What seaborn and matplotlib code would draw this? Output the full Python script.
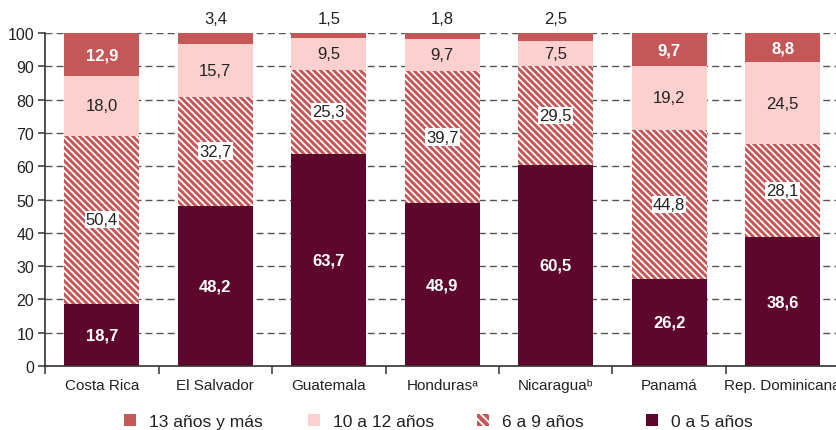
import numpy as np
import pandas as pd
import seaborn as sns
import matplotlib.pyplot as plt
from matplotlib.patches import Patch
from matplotlib.ticker import FixedLocator

countries = ["Costa Rica", "El Salvador", "Guatemala", "Honduras\u1d43",
             "Nicaragua\u1d47", "Panamá", "Rep. Dominicana"]
age_0_5 = [18.7, 48.2, 63.7, 48.9, 60.5, 26.2, 38.6]
age_6_9 = [50.4, 32.7, 25.3, 39.7, 29.5, 44.8, 28.1]
age_10_12 = [18.0, 15.7, 9.5, 9.7, 7.5, 19.2, 24.5]
age_13_plus = [12.9, 3.4, 1.5, 1.8, 2.5, 9.7, 8.8]

series_names = ["0 a 5 años", "6 a 9 años", "10 a 12 años", "13 años y más"]
colors = ["#5e072c", "#c65657", "#fbd0ce", "#c45859"]

sns.set_style("white")
plt.rcParams['font.family'] = ['Liberation Sans', 'DejaVu Sans']
plt.rcParams['hatch.linewidth'] = 1.3

df = pd.DataFrame({"pais": countries, "s0": age_0_5, "s1": age_6_9,
                   "s2": age_10_12, "s3": age_13_plus})
cols = ["s0", "s1", "s2", "s3"]
cum = df[cols].cumsum(axis=1)

fig = plt.figure(figsize=(8.36, 4.31), dpi=100)
ax = fig.add_axes([0.054, 0.1485, 0.946, 0.7725])

# draw from the top of the stack down so each layer covers the one before
for i in range(3, -1, -1):
    sns.barplot(x=df["pais"], y=cum[cols[i]], ax=ax, color=colors[i],
                saturation=1, width=0.66, linewidth=0)
    if i == 1:
        for p in ax.patches[-len(countries):]:
            p.set_facecolor(colors[1])
            p.set_edgecolor("white")
            p.set_hatch("\\\\\\\\\\")
            p.set_linewidth(0)

ax.set_xlim(-0.5, 6.47)
ax.set_ylim(0, 100)
ax.set_yticks(np.arange(0, 101, 10))
ax.set_xlabel("")
ax.set_ylabel("")

ax.set_axisbelow(True)
ax.yaxis.grid(True, linestyle=(0, (5, 3)), color="#555555", linewidth=1.0)
ax.xaxis.grid(False)

for s in ["top", "right"]:
    ax.spines[s].set_visible(False)
for s in ["left", "bottom"]:
    ax.spines[s].set_color("#333333")
    ax.spines[s].set_linewidth(1.2)

ax.tick_params(axis="y", which="major", left=True, length=5, width=1.1,
               color="#333333", labelsize=11.5, pad=3, labelcolor="#222222")
ax.tick_params(axis="x", which="major", bottom=False, labelsize=11,
               pad=5, labelcolor="#222222")
ax.xaxis.set_minor_locator(FixedLocator(np.arange(-0.5, 7, 1)))
ax.tick_params(axis="x", which="minor", bottom=True, length=6, width=1.1,
               color="#333333")

# value labels
fs = 12
for j in range(len(countries)):
    base = 0
    for i, c in enumerate(cols):
        v = df.loc[j, c]
        mid = base + v / 2
        txt = f"{v:.1f}".replace(".", ",")
        if i == 0:
            ax.text(j, mid, txt, ha="center", va="center", color="white",
                    fontsize=fs, fontweight="bold")
        elif i == 1:
            ax.text(j, mid, txt, ha="center", va="center", color="#222222",
                    fontsize=fs,
                    bbox=dict(facecolor="white", edgecolor="none", pad=0.8))
        elif i == 2:
            ax.text(j, mid, txt, ha="center", va="center", color="#222222",
                    fontsize=fs)
        else:
            if v > 5:
                ax.text(j, mid, txt, ha="center", va="center", color="white",
                        fontsize=fs, fontweight="bold")
            else:
                ax.text(j, 104.3, txt, ha="center", va="center",
                        color="#222222", fontsize=fs, clip_on=False)
        base += v

handles = [
    Patch(facecolor=colors[3], edgecolor="none", label=series_names[3]),
    Patch(facecolor=colors[2], edgecolor="none", label=series_names[2]),
    Patch(facecolor=colors[1], edgecolor="white", hatch="\\\\\\\\", linewidth=0,
          label=series_names[1]),
    Patch(facecolor=colors[0], edgecolor="none", label=series_names[0]),
]
# one small legend per entry, so each sits where the reference puts it
legend_x = [124, 308, 477, 646]
for h, lx in zip(handles, legend_x):
    leg = fig.legend(handles=[h], loc="center left",
                     bbox_to_anchor=(lx / 836, 0.02), frameon=False,
                     fontsize=12.5, handlelength=0.7, handleheight=0.7,
                     handletextpad=0.75, labelcolor="#222222",
                     borderaxespad=0, borderpad=0)

fig.savefig("out.png", dpi=100)
